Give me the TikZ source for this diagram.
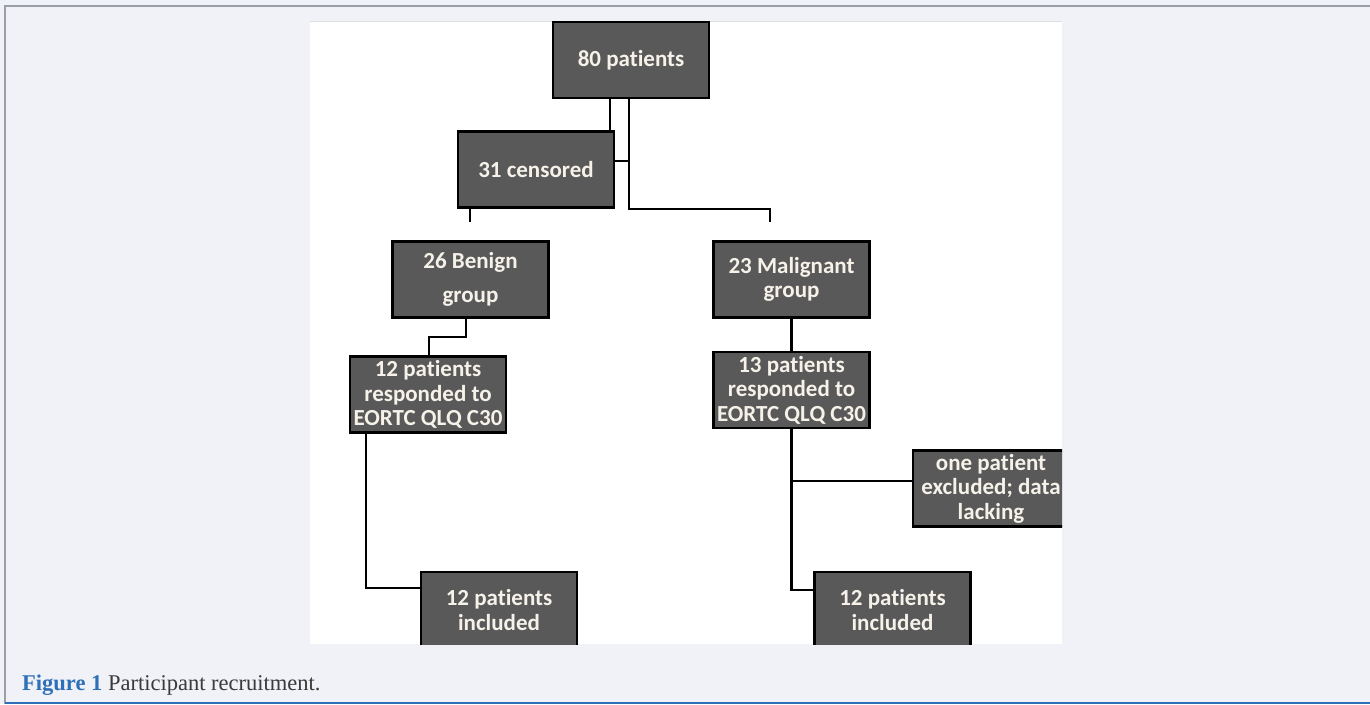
\documentclass[tikz,border=0pt]{standalone}
\usepackage{fontspec}
\setmainfont{Liberation Serif}
\newfontfamily\boxfont[Ligatures=NoCommon]{Carlito}
\usepackage{xcolor}
\usetikzlibrary{calc}
\definecolor{boxgray}{HTML}{595959}
\definecolor{boxtext}{HTML}{F6F2EA}
\definecolor{pagebg}{HTML}{F0F2F7}
\definecolor{framegray}{HTML}{9A9EA6}
\definecolor{capblue}{HTML}{2E70B8}
\definecolor{captext}{HTML}{3A3A3A}

\tikzset{
  grp/.style={draw=black,line width=2.5pt,fill=boxgray,text=boxtext,
    font=\boxfont\bfseries\fontsize{23}{24.5}\selectfont,align=center,
    minimum width=156pt,minimum height=76pt,inner sep=0pt},
  link/.style={line width=2.5pt}
}

\begin{document}
\begin{tikzpicture}[x=1pt,y=-1pt]
  \useasboundingbox (0,0) rectangle (1370,704);
  % Hintergrund
  \fill[pagebg] (0,0) rectangle (1370,704);
  \draw[framegray,line width=1.2pt] (5,704) -- (5,6) -- (1370,6);
  \draw[capblue,line width=2pt] (5,702.5) -- (1370,702.5);
  \fill[white] (310,21) rectangle (1062,644);
  \draw[gray!25] (310,21) -- (1062,21);

  \begin{scope}
    \clip (310,21) rectangle (1062,644);
    % Kaesten
    \node[grp] (pat80)  at (631,60)    {80 patients};
    \node[grp] (cens)   at (536,169.5) {31 censored};
    \node[grp] (benign) at (470.5,279.5) {26 Benign\\[10pt]group};
    \node[grp] (malig)  at (791.5,279.5) {23 Malignant\\group};
    \node[grp] (resp12) at (428,394.5) {12 patients\\responded to\\EORTC QLQ C30};
    \node[grp] (resp13) at (791.5,390) {13 patients\\responded to\\EORTC QLQ C30};
    \node[grp] (excl)   at (991,488.5) {one patient\\excluded; data\\lacking};
    \node[grp] (incL)   at (499,610)   {12 patients\\included};
    \node[grp] (incR)   at (892.5,610) {12 patients\\included};

    % Verbindungen
    \coordinate (ljoin) at (629,209);
    \coordinate (lstub) at (470,222);
    \coordinate (rstub) at (770,222);
    \draw[link] (pat80.south -| 610,0) -- (cens.north -| 610,0);
    \draw[link] (pat80.south -| ljoin) -- (ljoin) -| (rstub);
    \draw[link] (cens.east |- 0,161) -- (ljoin |- 0,161);
    \draw[link] (cens.south -| lstub) -- (lstub);
    \draw[link] (benign.south -| 466,0) -- (466,337) -| (resp12.north -| 429,0);
    \draw[link] (malig.south) -- (resp13.north);
    \draw[link] (resp13.south) |- ([yshift=20pt]incR.west);
    \draw[link] (resp13.south |- 0,481) -- (excl.west |- 0,481);
    \draw[link] (resp12.south -| 366,0) |- ([yshift=22pt]incL.west);
  \end{scope}

  % Bildunterschrift
  \node[anchor=base west,inner sep=0pt,font=\fontsize{22.5}{26}\selectfont]
    (cap) at (22,690) {\textcolor{capblue}{\bfseries Figure 1} \textcolor{captext}{Participant recruitment.}};
\end{tikzpicture}
\end{document}
